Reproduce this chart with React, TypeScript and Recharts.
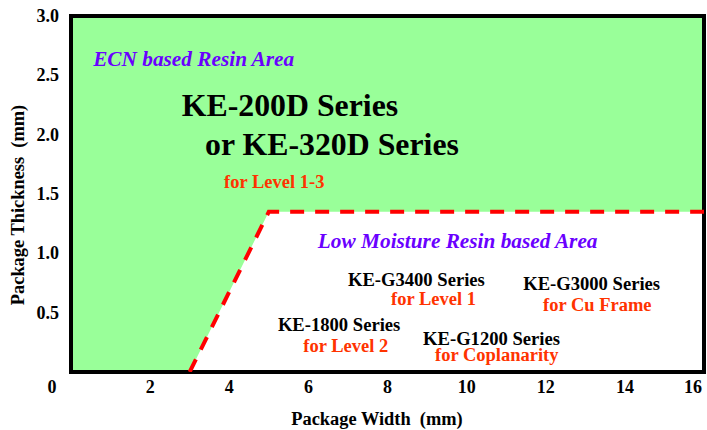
import {
  Area,
  ComposedChart,
  Line,
  ReferenceArea,
  ReferenceDot,
  XAxis,
  YAxis,
} from "recharts";

// boundary between the two resin areas
const widths = [0, 3, 5, 16];
const lowerThickness = [0, 0, 1.35, 1.35];
const upperThickness = [3, 3, 3, 3];

const xTicks = [0, 2, 4, 6, 8, 10, 12, 14, 16];
const yTicks = [0.5, 1.0, 1.5, 2.0, 2.5, 3.0];

const data = widths.map((w, i) => ({
  width: w,
  low: lowerThickness[i],
  high: upperThickness[i],
}));

const FONT = "'Liberation Serif', 'Times New Roman', serif";
const PURPLE = "#6A00FF";
const RED = "#FF3300";

type Note = {
  text: string;
  x: number;
  y: number;
  kind: "area" | "big" | "name" | "use";
};

const notes: Note[] = [
  { text: "ECN based Resin Area", x: 0.56, y: 2.58, kind: "area" },
  { text: "KE-200D Series", x: 2.8, y: 2.16, kind: "big" },
  { text: "or KE-320D Series", x: 3.39, y: 1.83, kind: "big" },
  { text: "for Level 1-3", x: 3.87, y: 1.55, kind: "use" },
  { text: "Low Moisture Resin based Area", x: 6.24, y: 1.045, kind: "area" },
  { text: "KE-G3400 Series", x: 7.0, y: 0.725, kind: "name" },
  { text: "for Level 1", x: 8.09, y: 0.565, kind: "use" },
  { text: "KE-G3000 Series", x: 11.43, y: 0.69, kind: "name" },
  { text: "for Cu Frame", x: 11.93, y: 0.515, kind: "use" },
  { text: "KE-1800 Series", x: 5.23, y: 0.345, kind: "name" },
  { text: "for Level 2", x: 5.87, y: 0.17, kind: "use" },
  { text: "KE-G1200 Series", x: 8.9, y: 0.228, kind: "name" },
  { text: "for Coplanarity", x: 9.2, y: 0.093, kind: "use" },
];

const noteStyle = {
  area: { fill: PURPLE, fontSize: 21.3, fontStyle: "italic" },
  big: { fill: "#000", fontSize: 31.8, fontStyle: "normal" },
  name: { fill: "#000", fontSize: 18.6, fontStyle: "normal" },
  use: { fill: RED, fontSize: 18.5, fontStyle: "normal" },
};

const XTick = (props: any) => {
  const { x, y, payload } = props;
  let dx = 0;
  if (payload.value === 0) dx = -19;
  if (payload.value === 16) dx = -6;
  return (
    <text
      x={x + dx}
      y={y + 21}
      textAnchor="middle"
      fontFamily={FONT}
      fontWeight="bold"
      fontSize={18}
      fill="#000"
    >
      {payload.value}
    </text>
  );
};

const YTick = (props: any) => {
  const { x, y, payload } = props;
  return (
    <text
      x={x}
      y={y + 6}
      textAnchor="end"
      fontFamily={FONT}
      fontWeight="bold"
      fontSize={18}
      fill="#000"
    >
      {payload.value.toFixed(1)}
    </text>
  );
};

export default function App() {
  return (
    <div style={{ position: "absolute", left: 0, top: 0 }}>
      <ComposedChart
        width={707}
        height={430}
        data={data}
        margin={{ top: 16, right: 3, left: 11, bottom: 0 }}
      >
        <XAxis
          dataKey="width"
          type="number"
          domain={[0, 16]}
          ticks={xTicks}
          tick={<XTick />}
          tickLine={false}
          tickSize={0}
          tickMargin={0}
          axisLine={false}
          height={58}
          allowDataOverflow
        />
        <YAxis
          type="number"
          domain={[0, 3]}
          ticks={yTicks}
          tick={<YTick />}
          tickLine={false}
          tickSize={0}
          tickMargin={12}
          axisLine={false}
          width={60}
          allowDataOverflow
        />
        <Area
          type="linear"
          dataKey={(d: any) => [d.low, d.high]}
          fill="#99FF99"
          fillOpacity={1}
          stroke="none"
          isAnimationActive={false}
        />
        {/* dashed boundary; the part along the bottom edge sits under the frame */}
        <Line
          type="linear"
          dataKey={(d: any) => (d.width >= 3 ? d.low : null)}
          stroke="#FF0000"
          strokeWidth={4}
          strokeDasharray="14 11"
          dot={false}
          activeDot={false}
          isAnimationActive={false}
        />
        <ReferenceArea
          x1={0}
          x2={16}
          y1={0}
          y2={3}
          fill="none"
          stroke="#000"
          strokeWidth={4}
        />
        {notes.map((n) => (
          <ReferenceDot
            key={n.text}
            x={n.x}
            y={n.y}
            r={0}
            shape={(p: any) => (
              <text
                x={p.cx}
                y={p.cy}
                textAnchor="start"
                fontFamily={FONT}
                fontWeight="bold"
                fontSize={noteStyle[n.kind].fontSize}
                fontStyle={noteStyle[n.kind].fontStyle}
                fill={noteStyle[n.kind].fill}
              >
                {n.text}
              </text>
            )}
          />
        ))}
        <text
          x={377}
          y={425}
          textAnchor="middle"
          fontFamily={FONT}
          fontWeight="bold"
          fontSize={18.4}
          fill="#000"
          style={{ whiteSpace: "pre" }}
        >
          {"Package Width  (mm)"}
        </text>
        <text
          x={24}
          y={205}
          transform="rotate(-90 24 205)"
          textAnchor="middle"
          fontFamily={FONT}
          fontWeight="bold"
          fontSize={18.4}
          fill="#000"
          style={{ whiteSpace: "pre" }}
        >
          {"Package Thickness  (mm)"}
        </text>
      </ComposedChart>
    </div>
  );
}
